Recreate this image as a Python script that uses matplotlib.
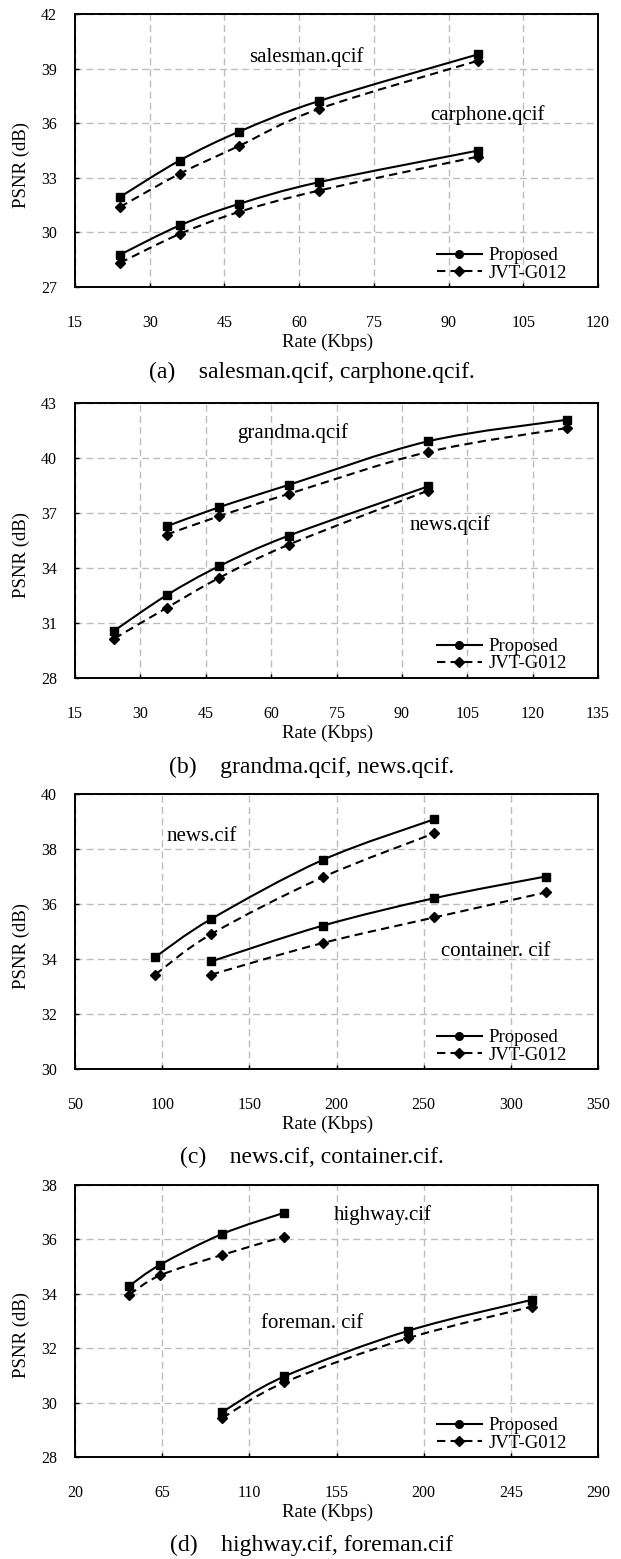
import numpy as np
import matplotlib.pyplot as plt
from matplotlib.path import Path
from matplotlib.patches import PathPatch
from matplotlib.lines import Line2D

plt.rcParams['font.family'] = ['Liberation Serif', 'DejaVu Serif']

# (a)
rate_a = [24, 36, 48, 64, 96]
salesman_prop = [31.94, 33.95, 35.54, 37.22, 39.79]
salesman_jvt = [31.39, 33.22, 34.76, 36.79, 39.44]
carphone_prop = [28.77, 30.38, 31.57, 32.76, 34.50]
carphone_jvt = [28.32, 29.91, 31.13, 32.30, 34.17]

# (b)
rate_grandma = [36, 48, 64, 96, 128]
grandma_prop = [36.27, 37.31, 38.53, 40.91, 42.09]
grandma_jvt = [35.82, 36.82, 38.04, 40.33, 41.64]
rate_newsq = [24, 36, 48, 64, 96]
newsq_prop = [30.58, 32.51, 34.09, 35.76, 38.45]
newsq_jvt = [30.15, 31.82, 33.45, 35.27, 38.22]

# (c)
rate_newscif = [96, 128, 192, 256]
newscif_prop = [34.07, 35.45, 37.60, 39.08]
newscif_jvt = [33.43, 34.90, 36.97, 38.57]
rate_container = [128, 192, 256, 320]
container_prop = [33.91, 35.21, 36.21, 37.00]
container_jvt = [33.43, 34.58, 35.51, 36.42]

# (d)
rate_highway = [48, 64, 96, 128]
highway_prop = [34.29, 35.07, 36.20, 36.98]
highway_jvt = [33.97, 34.68, 35.43, 36.10]
rate_foreman = [96, 128, 192, 256]
foreman_prop = [29.65, 30.96, 32.64, 33.78]
foreman_jvt = [29.43, 30.74, 32.37, 33.53]

W, H = 621, 1559
fig = plt.figure(figsize=(W/100, H/100), dpi=100)
fig.set_facecolor('white')


def smooth_path(ax, x, y):
    # excel-like smoothed line, built in screen space
    pts = ax.transData.transform(np.column_stack([x, y]))
    n = len(pts)
    verts = [pts[0]]
    codes = [Path.MOVETO]
    for i in range(n-1):
        p0 = pts[i-1] if i > 0 else pts[i]
        p1 = pts[i]
        p2 = pts[i+1]
        p3 = pts[i+2] if i+2 < n else pts[i+1]
        verts += [p1 + (p2-p0)/6, p2 - (p3-p1)/6, p2]
        codes += [Path.CURVE4]*3
    verts = ax.transData.inverted().transform(np.array(verts))
    return Path(verts, codes)


def draw_series(ax, x, y, dashed, marker):
    ls = (0, (4, 2.5)) if dashed else '-'
    ax.add_patch(PathPatch(smooth_path(ax, x, y), facecolor='none',
                           edgecolor='black', lw=1.5, linestyle=ls))
    ax.plot(x, y, linestyle='none', marker=marker, color='black', ms=5.5)


def make_panel(top, bottom, xlim, xstep, ylim, ystep, series, notes, caption, cap_y):
    ax = fig.add_axes([75/W, 1-bottom/H, 523/W, (bottom-top)/H])
    ax.set_xlim(*xlim)
    ax.set_ylim(*ylim)
    ax.set_xticks(np.arange(xlim[0], xlim[1]+1, xstep))
    ax.set_yticks(np.arange(ylim[0], ylim[1]+1, ystep))
    ax.grid(True, color='#bdbdbd', linestyle=(0, (5, 3)), lw=1)
    ax.set_axisbelow(True)
    for s in ax.spines.values():
        s.set_linewidth(1.4)
    ax.tick_params(direction='in', length=3, width=1, labelsize=11.5)
    ax.tick_params(axis='x', pad=20)
    ax.tick_params(axis='y', pad=13)
    ax.set_xlabel('Rate (Kbps)', fontsize=13.5)
    ax.set_ylabel('PSNR (dB)', fontsize=13.5)
    ax.xaxis.set_label_coords(0.482, -0.17)
    ax.yaxis.set_label_coords(-0.086, 0.447)

    for x, yp, yj in series:
        draw_series(ax, x, yp, False, 's')
        draw_series(ax, x, yj, True, 'D')

    for txt, tx, ty in notes:
        ax.text(tx, ty, txt, fontsize=15, ha='left', va='center')

    handles = [Line2D([], [], color='black', lw=1.5, marker='o', ms=5.5),
               Line2D([], [], color='black', lw=1.5, ls=(0, (4, 2.5)), marker='D', ms=5)]
    ax.legend(handles, ['Proposed', 'JVT-G012'], loc='lower left',
              bbox_to_anchor=(0.692, 0.02), frameon=False, fontsize=13.5,
              borderpad=0, borderaxespad=0, handlelength=2.4,
              handletextpad=0.35, labelspacing=0.0)

    fig.text(312/W, 1-cap_y/H, caption, fontsize=17, ha='center', va='center')
    return ax


make_panel(14, 287, (15, 120), 15, (27, 42), 3,
           [(rate_a, salesman_prop, salesman_jvt), (rate_a, carphone_prop, carphone_jvt)],
           [('salesman.qcif', 49.9, 39.66), ('carphone.qcif', 86.3, 36.46)],
           '(a)    salesman.qcif, carphone.qcif.', 372)

make_panel(403, 678, (15, 135), 15, (28, 43), 3,
           [(rate_grandma, grandma_prop, grandma_jvt), (rate_newsq, newsq_prop, newsq_jvt)],
           [('grandma.qcif', 52.1, 41.36), ('news.qcif', 91.8, 36.36)],
           '(b)    grandma.qcif, news.qcif.', 767)

make_panel(794, 1069, (50, 350), 50, (30, 40), 2,
           [(rate_newscif, newscif_prop, newscif_jvt), (rate_container, container_prop, container_jvt)],
           [('news.cif', 102.4, 38.45), ('container. cif', 260.1, 34.27)],
           '(c)    news.cif, container.cif.', 1157)

make_panel(1185, 1457, (20, 290), 45, (28, 38), 2,
           [(rate_highway, highway_prop, highway_jvt), (rate_foreman, foreman_prop, foreman_jvt)],
           [('highway.cif', 153.8, 36.9), ('foreman. cif', 115.9, 32.92)],
           '(d)    highway.cif, foreman.cif', 1545)

fig.savefig('out.png', dpi=100)
